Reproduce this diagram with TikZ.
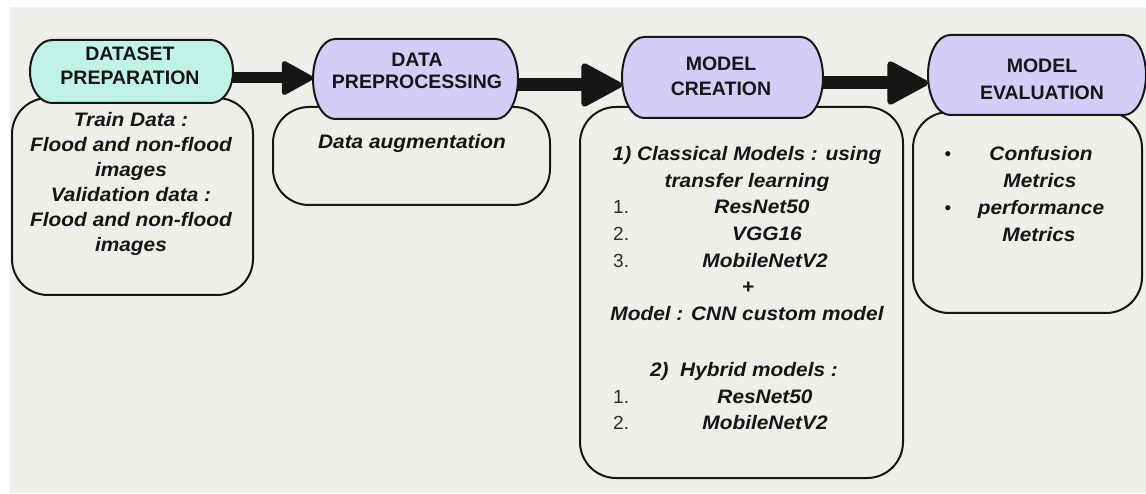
\documentclass[tikz,border=0pt]{standalone}
\usepackage{fontspec}
\setmainfont{Liberation Sans}
\newfontfamily\bodyfamily{Liberation Sans}[FakeStretch=1.07]
\usetikzlibrary{arrows.meta,calc}

\definecolor{paper}{RGB}{239,239,234}
\definecolor{ink}{RGB}{22,22,22}
\definecolor{numgray}{RGB}{45,45,45}
\definecolor{mint}{RGB}{192,243,230}
\definecolor{lilac}{RGB}{213,205,248}

\newcommand\headfont{\fontsize{19.5}{25}\selectfont\bfseries}
\newcommand\bodyfont{\bodyfamily\fontsize{19.5}{25}\selectfont\bfseries\itshape}
\newcommand\numfont{\fontsize{19}{25}\selectfont}

% stadium outline with elliptical ends around an (empty) node
\newcommand\pillframe[2]{%
  \draw[pillshape=#2] let \p1=(#1.north east), \p2=(#1.south east),
      \n1={(\y1-\y2)/2} in
    ([xshift=-22pt]#1.north east)
      arc[start angle=90,end angle=-90,x radius=22pt,y radius=\n1]
      -- ([xshift=22pt]#1.south west)
      arc[start angle=270,end angle=90,x radius=22pt,y radius=\n1]
      -- cycle;}

\tikzset{
  pillshape/.style={draw=ink, line width=2pt, fill=#1},
  slot/.style={inner sep=0pt, outer sep=0pt},
  boxshape/.style={draw=ink, line width=2pt, rounded corners=36pt, inner sep=0pt},
  head/.style={font=\headfont, text=ink, align=center, inner sep=0pt, anchor=north},
  body/.style={font=\bodyfont, text=ink, align=center, inner sep=0pt},
  num/.style={font=\numfont, text=numgray, inner sep=0pt, anchor=base west},
  flowthin/.style={draw=ink, line width=11pt,
    -{Triangle[length=34pt,width=36pt,round,line width=5pt]}},
  flowthick/.style={draw=ink, line width=13pt,
    -{Triangle[length=44pt,width=46pt,round,line width=6pt]}},
}

\begin{document}
\begin{tikzpicture}[x=1pt,y=1pt]
\useasboundingbox (0,0) rectangle (1146,493);
\fill[white] (0,0) rectangle (1146,493);
\fill[paper] (10,0) rectangle (1146,486);

% content boxes
\node[boxshape, minimum width=241pt, minimum height=197pt] (b1) at (132.5,296.5) {};
\node[boxshape, minimum width=277pt, minimum height=98pt]  (b2) at (411.5,337) {};
\node[boxshape, minimum width=323pt, minimum height=371pt] (b3) at (741.5,200.5) {};
\node[boxshape, minimum width=229pt, minimum height=201pt] (b4) at (1027.5,280.5) {};

% stage headers
\node[slot, minimum width=203pt, minimum height=63pt] (p1) at (131.5,421.5) {};
\node[slot, minimum width=205pt, minimum height=80pt] (p2) at (415.5,414) {};
\node[slot, minimum width=201pt, minimum height=81pt] (p3) at (722.5,415.5) {};
\node[slot, minimum width=218pt, minimum height=80pt] (p4) at (1037,418) {};
\pillframe{p1}{mint}
\pillframe{p2}{lilac}
\pillframe{p3}{lilac}
\pillframe{p4}{lilac}

\node[head] (h1) at (130,446.3) {DATASET\\[-1pt]PREPARATION};
\node[head] (h2) at (417,439.7) {DATA\\[-3pt]PREPROCESSING};
\node[head] (h3) at (721,436.3) {MODEL\\CREATION};
\node[head] (h4) at (1042,434.7) {MODEL\\[2pt]EVALUATION};

% flow arrows
\draw[flowthin]  ([yshift=-6.5pt]p1.east) -- ([yshift=1pt]p2.west);
\draw[flowthick] ([yshift=-6pt]p2.east)   -- ([yshift=-7.5pt]p3.west);
\draw[flowthick] ([yshift=-5.5pt]p3.east) -- ([yshift=-8pt]p4.west);

% dataset preparation
\node[body, anchor=north] (t1) at (131,381.3)
  {Train Data :\\Flood and non-flood\\images\\Validation data :\\Flood and non-flood\\images};

% data preprocessing
\node[body, anchor=base] (t2) at (412,344) {Data augmentation};

% model creation
\node[body, anchor=base] (c1) at (747,332.5) {1) Classical Models : using};
\node[body, anchor=base] (c2) at (747,305.8) {transfer learning};
\node[num] (n1) at (613,279.1) {1.};
\node[body, anchor=base] (m1) at (762,279.1) {ResNet50};
\node[num] (n2) at (613,252.4) {2.};
\node[body, anchor=base] (m2) at (767,252.4) {VGG16};
\node[num] (n3) at (613,225.7) {3.};
\node[body, anchor=base] (m3) at (765,225.7) {MobileNetV2};
\node[body, anchor=base] (plus) at (748,199) {+};
\node[body, anchor=base] (c3) at (747,172.3) {Model : CNN custom model};
\node[body, anchor=base] (c4) at (744,116.5) {2)\ \ Hybrid models :};
\node[num] (n4) at (613,89.8) {1.};
\node[body, anchor=base] (m4) at (765,89.8) {ResNet50};
\node[num] (n5) at (613,63.1) {2.};
\node[body, anchor=base] (m5) at (765,63.1) {MobileNetV2};

% model evaluation
\node[font=\numfont, text=ink, inner sep=0pt, anchor=base] (d1) at (948,332.5) {•};
\node[body, anchor=base] (e1) at (1041,332.5) {Confusion};
\node[body, anchor=base] (e2) at (1040,305.5) {Metrics};
\node[font=\numfont, text=ink, inner sep=0pt, anchor=base] (d2) at (948,278.5) {•};
\node[body, anchor=base] (e3) at (1041,278.5) {performance};
\node[body, anchor=base] (e4) at (1039,251.5) {Metrics};
\end{tikzpicture}
\end{document}
